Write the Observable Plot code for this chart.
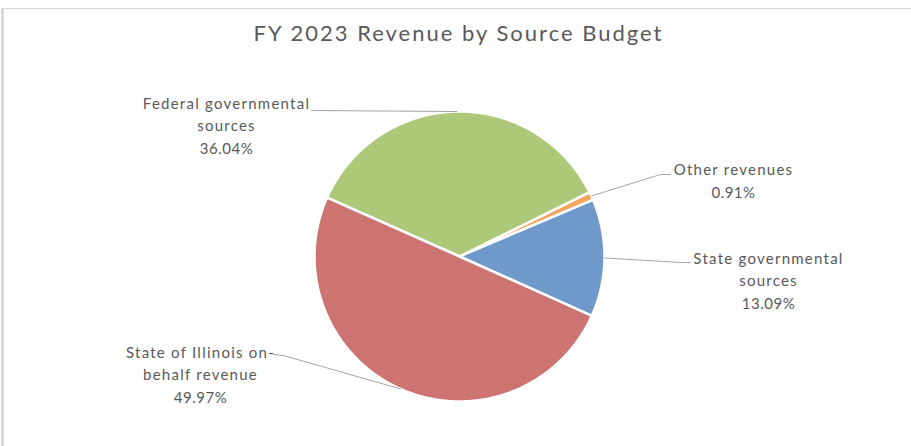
<!DOCTYPE html>
<html>
<head>
<meta charset="utf-8">
<script src="https://cdn.jsdelivr.net/npm/d3@7"></script>
<script src="https://cdn.jsdelivr.net/npm/@observablehq/plot@0.6"></script>
<style>
  html, body { margin: 0; padding: 0; background: #fff; }
  #wrap { position: relative; width: 911px; height: 446px; overflow: hidden; }
  #wrap::before { content: ""; position: absolute; left: 1px; top: 8px; right: -10px; bottom: -10px;
    border-top: 1px solid #d9d9d9; border-left: 3px solid #d9d9d9; pointer-events: none; }
  svg { display: block; }
</style>
</head>
<body>
<div id="wrap"></div>
<script>
// ---- data ----
const title = "FY 2023 Revenue by Source Budget";
const categories = ["Federal governmental sources", "Other revenues", "State governmental sources", "State of Illinois on-behalf revenue"];
const shares = [36.04, 0.91, 13.09, 49.97];
const pctLabels = ["36.04%", "0.91%", "13.09%", "49.97%"];
const nameLines = [["Federal governmental", "sources"], ["Other revenues"], ["State governmental", "sources"], ["State of Illinois on-", "behalf revenue"]];
const colors = ["#aec879", "#f7a55c", "#6f99ca", "#cd7371"];

// ---- layout (pixels) ----
const W = 911, H = 446;
const cx = 459, cy = 256, R = 145;
const startDeg = -66;
const lineStep = 22.5;
// label block centers and leader elbows / ends
const labelPos = [[226, 126], [733, 181], [768, 281], [200, 375]];
const leaderElbow = [[311, 110], [660, 174], [680, 262], [283, 355]];
const leaderEnd = [[311, 110], [670, 174], [690, 262], [273, 354]];

const pie = d3.pie().sort(null).value(d => d)
  .startAngle(startDeg * Math.PI / 180)
  .endAngle(startDeg * Math.PI / 180 + 2 * Math.PI)(shares);

const slicePts = [];
pie.forEach((p, i) => {
  const cat = categories[i];
  slicePts.push({cat, x: cx, y: cy});
  const n = Math.max(2, Math.ceil((p.endAngle - p.startAngle) / (Math.PI / 360)));
  for (let k = 0; k <= n; k++) {
    const a = p.startAngle + (p.endAngle - p.startAngle) * k / n;
    slicePts.push({cat, x: cx + R * Math.sin(a), y: cy - R * Math.cos(a)});
  }
  slicePts.push({cat, x: cx, y: cy});
});

const leaderPts = [];
pie.forEach((p, i) => {
  const a = (p.startAngle + p.endAngle) / 2;
  const cat = categories[i];
  leaderPts.push({cat, x: cx + R * Math.sin(a), y: cy - R * Math.cos(a)});
  leaderPts.push({cat, x: leaderElbow[i][0], y: leaderElbow[i][1]});
  leaderPts.push({cat, x: leaderEnd[i][0], y: leaderEnd[i][1]});
});

const nameRows = [], pctRows = [];
categories.forEach((c, i) => {
  const lines = nameLines[i];
  const n = lines.length + 1;
  lines.forEach((t, j) => nameRows.push({x: labelPos[i][0], y: labelPos[i][1] + (j - (n - 1) / 2) * lineStep, text: t}));
  pctRows.push({x: labelPos[i][0], y: labelPos[i][1] + (n - 1 - (n - 1) / 2) * lineStep, text: pctLabels[i]});
});

const chart = Plot.plot({
  width: W, height: H,
  margin: 0,
  x: {domain: [0, W], range: [0, W], axis: null},
  y: {domain: [0, H], range: [0, H], axis: null},
  color: {domain: categories, range: colors},
  style: {fontFamily: "Lato, 'Liberation Sans', sans-serif", background: "transparent"},
  marks: [
    Plot.line(slicePts, {x: "x", y: "y", z: "cat", fill: "cat", stroke: "white", strokeWidth: 2.5, strokeLinejoin: "round", curve: "linear"}),
    Plot.line(leaderPts, {x: "x", y: "y", z: "cat", stroke: "#a6a6a6", strokeWidth: 1}),
    Plot.text(nameRows, {x: "x", y: "y", text: "text", fontSize: 15, fill: "#595959", textAnchor: "middle"}),
    Plot.text(pctRows, {x: "x", y: "y", text: "text", fontSize: 15, fill: "#595959", textAnchor: "middle"}),
    Plot.text([title], {x: [458], y: [33], text: d => d, fontSize: 22, fill: "#595959", textAnchor: "middle"})
  ]
});
// Excel-like wide tracking of the labels
d3.select(chart).selectAll("text").each(function () {
  const t = this.textContent;
  const ls = t === title ? 2.0 : pctLabels.includes(t) ? 0.5 : 1.25;
  this.setAttribute("letter-spacing", ls);
  this.style.letterSpacing = ls + "px";
});
document.getElementById("wrap").appendChild(chart);
</script>
</body>
</html>
